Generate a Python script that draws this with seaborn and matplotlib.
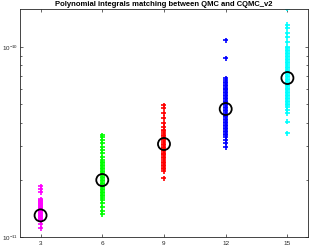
import matplotlib
matplotlib.use("Agg")
import matplotlib.pyplot as plt
import matplotlib.ticker as mticker
import seaborn as sns
import pandas as pd
import numpy as np

# degree of polynomial and matching errors
degrees = [3, 6, 9, 12, 15]
colors = ['#ff00ff', '#00ff00', '#ff0000', '#0000ff', '#00ffff']

err_3 = [1.855e-11, 1.789e-11, 1.725e-11, 1.585e-11, 1.565e-11, 1.547e-11, 1.528e-11,
         1.510e-11, 1.492e-11, 1.474e-11, 1.456e-11, 1.438e-11, 1.421e-11, 1.404e-11,
         1.387e-11, 1.370e-11, 1.353e-11, 1.337e-11, 1.321e-11, 1.305e-11, 1.290e-11,
         1.274e-11, 1.259e-11, 1.244e-11, 1.229e-11, 1.214e-11, 1.171e-11, 1.115e-11]
err_6 = [3.442e-11, 3.360e-11, 3.240e-11, 3.125e-11, 2.977e-11, 2.870e-11, 2.768e-11,
         2.637e-11, 2.543e-11, 2.497e-11, 2.452e-11, 2.408e-11, 2.364e-11, 2.322e-11,
         2.280e-11, 2.239e-11, 2.198e-11, 2.159e-11, 2.120e-11, 2.082e-11, 2.044e-11,
         2.007e-11, 1.971e-11, 1.935e-11, 1.900e-11, 1.866e-11, 1.833e-11, 1.800e-11,
         1.767e-11, 1.735e-11, 1.704e-11, 1.673e-11, 1.643e-11, 1.604e-11, 1.565e-11,
         1.510e-11, 1.438e-11, 1.370e-11, 1.321e-11]
err_9 = [4.951e-11, 4.775e-11, 4.494e-11, 4.230e-11, 3.981e-11, 3.793e-11, 3.658e-11,
         3.592e-11, 3.527e-11, 3.463e-11, 3.401e-11, 3.340e-11, 3.280e-11, 3.221e-11,
         3.162e-11, 3.105e-11, 3.050e-11, 2.995e-11, 2.941e-11, 2.888e-11, 2.836e-11,
         2.785e-11, 2.735e-11, 2.686e-11, 2.637e-11, 2.590e-11, 2.543e-11, 2.497e-11,
         2.452e-11, 2.408e-11, 2.364e-11, 2.322e-11, 2.280e-11, 2.225e-11, 2.044e-11]
err_12 = [1.088e-10, 8.750e-11, 6.867e-11, 6.703e-11, 6.582e-11, 6.463e-11, 6.347e-11,
          6.233e-11, 6.121e-11, 6.011e-11, 5.903e-11, 5.797e-11, 5.693e-11, 5.590e-11,
          5.490e-11, 5.391e-11, 5.294e-11, 5.199e-11, 5.105e-11, 5.012e-11, 4.922e-11,
          4.834e-11, 4.747e-11, 4.661e-11, 4.577e-11, 4.494e-11, 4.413e-11, 4.334e-11,
          4.256e-11, 4.180e-11, 4.105e-11, 4.031e-11, 3.958e-11, 3.887e-11, 3.817e-11,
          3.748e-11, 3.681e-11, 3.614e-11, 3.549e-11, 3.485e-11, 3.422e-11, 3.360e-11,
          3.240e-11, 3.125e-11, 2.977e-11]
err_15 = [1.585e-10, 1.306e-10, 1.259e-10, 1.185e-10, 1.129e-10, 1.063e-10, 1.000e-10,
          9.820e-11, 9.643e-11, 9.469e-11, 9.299e-11, 9.131e-11, 8.966e-11, 8.805e-11,
          8.646e-11, 8.490e-11, 8.337e-11, 8.187e-11, 8.039e-11, 7.894e-11, 7.752e-11,
          7.612e-11, 7.475e-11, 7.340e-11, 7.208e-11, 7.078e-11, 6.950e-11, 6.825e-11,
          6.703e-11, 6.582e-11, 6.463e-11, 6.347e-11, 6.233e-11, 6.121e-11, 6.011e-11,
          5.903e-11, 5.797e-11, 5.693e-11, 5.590e-11, 5.490e-11, 5.391e-11, 5.294e-11,
          5.199e-11, 5.105e-11, 5.012e-11, 4.922e-11, 4.834e-11, 4.661e-11, 4.494e-11,
          4.031e-11, 3.527e-11]
# mean error per degree (black circles)
err_mean = [1.30e-11, 1.995e-11, 3.087e-11, 4.718e-11, 6.867e-11]
y_ticks = [1e-11, 1e-10]

all_errs = [err_3, err_6, err_9, err_12, err_15]
df = pd.concat([pd.DataFrame({'degree': d, 'err': e}) for d, e in zip(degrees, all_errs)],
               ignore_index=True)
df_mean = pd.DataFrame({'degree': degrees, 'err': err_mean})

plt.rcParams['font.family'] = ['Liberation Sans', 'DejaVu Sans']
fig = plt.figure(figsize=(3.1, 2.49), dpi=100)
ax = fig.add_axes([0.0645, 0.048, 0.929, 0.916])

sns.scatterplot(data=df, x='degree', y='err', hue='degree', palette=colors,
                marker='+', s=13, linewidth=1.2, legend=False, ax=ax, zorder=2)
sns.scatterplot(data=df_mean, x='degree', y='err', marker='o', s=75,
                facecolor='none', edgecolor='black', linewidth=1.3,
                legend=False, ax=ax, zorder=3)

ax.set_yscale('log')
ax.set_xlim(2, 16)
ax.set_ylim(1e-11, 1.585e-10)
ax.set_xticks(degrees)
ax.set_yticks(y_ticks)
ax.yaxis.set_minor_locator(mticker.LogLocator(base=10, subs=np.arange(2, 10)))
ax.yaxis.set_minor_formatter(mticker.NullFormatter())
ax.set_xlabel('')
ax.set_ylabel('')
ax.set_title('Polynomial integrals matching between QMC and CQMC_v2',
             fontsize=5.5, fontweight='bold', pad=2)

for s in ax.spines.values():
    s.set_color('#262626')
    s.set_linewidth(0.6)
ax.tick_params(which='both', direction='in', top=True, right=True,
               color='#262626', labelcolor='#262626', width=0.5)
ax.tick_params(axis='x', labelsize=4.6, pad=2.5)
ax.tick_params(axis='y', labelsize=4.5, pad=1.2)
ax.tick_params(which='major', length=2.5)
ax.tick_params(which='minor', length=1.5)

fig.savefig('out.png', dpi=100)
